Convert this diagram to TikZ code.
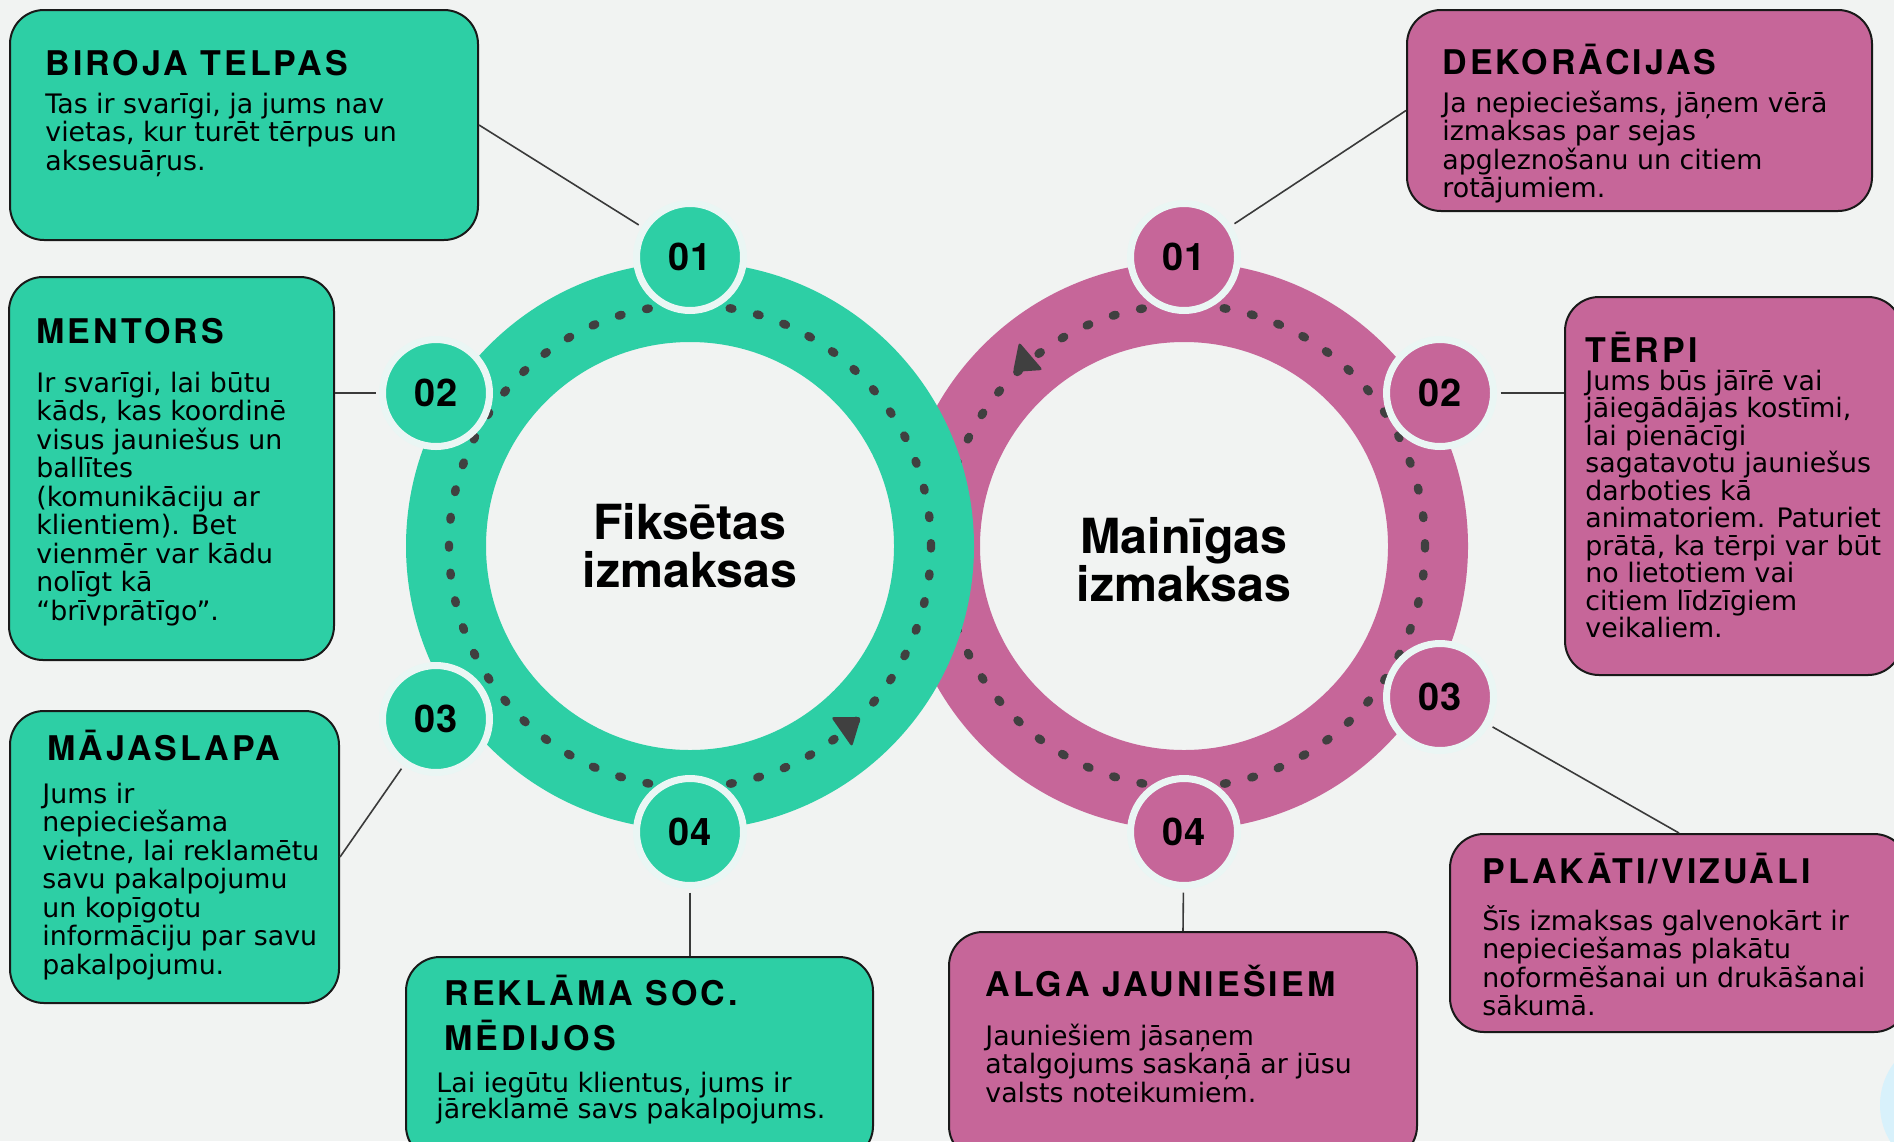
\documentclass[tikz,border=0pt]{standalone}
\usepackage{fontspec}
\setmainfont{DejaVu Sans}
\newfontfamily\herosfamily{TeX Gyre Heros}
\newfontfamily\herosspaced[LetterSpace=9]{TeX Gyre Heros}
\usetikzlibrary{fit}

\definecolor{fixgreen}{HTML}{2DCFA5}
\definecolor{varpink}{HTML}{C66699}
\definecolor{dotgray}{HTML}{404040}
\definecolor{rimwhite}{HTML}{EAF6F4}
\definecolor{paper}{HTML}{F1F3F2}
\definecolor{decoblue}{HTML}{D8F1FB}
\definecolor{linkgray}{HTML}{3A3A3A}

\newcommand{\boxheadfont}{\herosspaced\bfseries\fontsize{17pt}{22.5pt}\selectfont}
\newcommand{\boxbodyfont}{\fontsize{13.4pt}{14.25pt}\selectfont\lineskiplimit=-20pt\lineskip=0pt}
\newcommand{\badgefont}{\herosfamily\bfseries\fontsize{19pt}{20pt}\selectfont}
\newcommand{\ringfont}{\herosfamily\bfseries\fontsize{24.2pt}{24pt}\selectfont}
% lines of a box text, first baseline = node baseline
\newcommand{\boxlines}[1]{\vtop{\let\\\cr\halign{##\hfil\cr#1\crcr}}}

\tikzstyle{fixbox}=[rectangle,
                    rounded corners=17pt,
                    line width=1pt,
                    draw=black!90,
                    fill=fixgreen,
                    inner sep=0pt]
\tikzstyle{varbox}=[rectangle,
                    rounded corners=17pt,
                    line width=1pt,
                    draw=black!90,
                    fill=varpink,
                    inner sep=0pt]
\tikzstyle{boxhead}=[anchor=base west,
                    inner sep=0pt,
                    font=\boxheadfont]
\tikzstyle{boxbody}=[anchor=base west,
                    inner sep=0pt,
                    font=\boxbodyfont]
\tikzstyle{badge}=[circle,
                    minimum size=53.5pt,
                    inner sep=0pt,
                    line width=3.5pt,
                    draw=rimwhite,
                    font=\badgefont]
\tikzstyle{ring}=[circle,
                    minimum size=244pt,
                    inner sep=0pt,
                    line width=40pt]
\tikzstyle{ringlabel}=[align=center,
                    inner sep=0pt,
                    font=\ringfont]
\tikzstyle{dots}=[draw=dotgray,
                    line width=4.2pt,
                    line cap=round,
                    dash pattern=on 1.4pt off 12.6pt]
\tikzstyle{link}=[draw=linkgray,
                    line width=0.8pt]

\begin{document}
\begin{tikzpicture}[x=0.5pt,y=-0.5pt]
  % page and background
  \useasboundingbox (0,0) rectangle (1894,1141);
  \fill[paper] (0,0) rectangle (1894,1141);
  \fill[decoblue] (1950,1105) circle[radius=35pt];

  % The two rings, the pink one lies under the green one
  \node[ring, draw=varpink] (Ring_V) at (1184,546) {};
  \draw[dots] (Ring_V.center) circle[radius=120.5pt];
  \node[ring, draw=fixgreen] (Ring_F) at (690,546) {};
  \draw[dots] (Ring_F.center) circle[radius=120.5pt];

  % direction markers on the dotted circles
  \fill[dotgray, rounded corners=1.5pt] (831,717) -- (861,717) -- (852,747) -- cycle;
  \fill[dotgray, rounded corners=1.5pt] (1019,342) -- (1043,370) -- (1013,372) -- cycle;

  \node[ringlabel] (Label_F) at (Ring_F.center) {Fiksētas\\izmaksas};
  \node[ringlabel, yshift=-7pt] (Label_V) at (Ring_V.center) {Mainīgas\\izmaksas};

  % Numbered badges on the rings
  \node[badge, fill=fixgreen] (F_01) at (690,257) {01};
  \node[badge, fill=fixgreen] (F_02) at (436,393) {02};
  \node[badge, fill=fixgreen] (F_03) at (436,719) {03};
  \node[badge, fill=fixgreen] (F_04) at (690,832) {04};
  \node[badge, fill=varpink] (V_01) at (1184,257) {01};
  \node[badge, fill=varpink] (V_02) at (1440,393) {02};
  \node[badge, fill=varpink] (V_03) at (1440,697) {03};
  \node[badge, fill=varpink] (V_04) at (1184,832) {04};

  % Fixed costs: boxes on the left
  \node[fixbox, fit={(10,10) (478,240)}] (Box_F1) {};
  \node[boxhead] (Head_F1) at (45,75) {BIROJA TELPAS};
  \node[boxbody] (Body_F1) at (45,113) {\boxlines{Tas ir svarīgi, ja jums nav\\vietas, kur turēt tērpus un\\aksesuāŗus.}};

  \node[fixbox, fit={(9,277) (334,660)}] (Box_F2) {};
  \node[boxhead] (Head_F2) at (36,343) {MENTORS};
  \node[boxbody] (Body_F2) at (36,392) {\boxlines{Ir svarīgi, lai būtu\\kāds, kas koordinē\\visus jauniešus un\\ballītes\\(komunikāciju ar\\klientiem). Bet\\vienmēr var kādu\\nolīgt kā\\“brīvprātīgo”.}};

  \node[fixbox, fit={(10,711) (339,1003)}] (Box_F3) {};
  \node[boxhead] (Head_F3) at (47,760) {MĀJASLAPA};
  \node[boxbody] (Body_F3) at (42,803) {\boxlines{Jums ir\\nepieciešama\\vietne, lai reklamētu\\savu pakalpojumu\\un kopīgotu\\informāciju par savu\\pakalpojumu.}};

  \node[fixbox, fit={(406,957) (873,1160)}] (Box_F4) {};
  \node[boxhead] (Head_F4) at (444,1005) {\boxlines{REKLĀMA SOC.\\MĒDIJOS}};
  \node[boxbody, font={\boxbodyfont\baselineskip=13pt}] (Body_F4) at (436,1092) {\boxlines{Lai iegūtu klientus, jums ir\\jāreklamē savs pakalpojums.}};

  % Variable costs: boxes on the right
  \node[varbox, fit={(1407,10) (1872,211)}] (Box_V1) {};
  \node[boxhead] (Head_V1) at (1442,74) {DEKORĀCIJAS};
  \node[boxbody] (Body_V1) at (1442,112) {\boxlines{Ja nepieciešams, jāņem vērā\\izmaksas par sejas\\apgleznošanu un citiem\\rotājumiem.}};

  \node[varbox, fit={(1565,297) (1902,675)}] (Box_V2) {};
  \node[boxhead] (Head_V2) at (1585,362) {TĒRPI};
  \node[boxbody, font={\boxbodyfont\baselineskip=13.75pt}] (Body_V2) at (1585,390) {\boxlines{Jums būs jāīrē vai\\jāiegādājas kostīmi,\\lai pienācīgi\\sagatavotu jauniešus\\darboties kā\\animatoriem. Paturiet\\prātā, ka tērpi var būt\\no lietotiem vai\\citiem līdzīgiem\\veikaliem.}};

  \node[varbox, fit={(1450,834) (1908,1032)}] (Box_V3) {};
  \node[boxhead] (Head_V3) at (1482,883) {PLAKĀTI/VIZUĀLI};
  \node[boxbody] (Body_V3) at (1482,930) {\boxlines{Šīs izmaksas galvenokārt ir\\nepieciešamas plakātu\\noformēšanai un drukāšanai\\sākumā.}};

  \node[varbox, fit={(949,932) (1417,1160)}] (Box_V4) {};
  \node[boxhead] (Head_V4) at (985,996) {ALGA JAUNIEŠIEM};
  \node[boxbody] (Body_V4) at (985,1045) {\boxlines{Jauniešiem jāsaņem\\atalgojums saskaņā ar jūsu\\valsts noteikumiem.}};

  % Connectors from the badges to their boxes
  \path[link, shorten <=1.75pt]
    (F_01) edge (Box_F1.east)
    (F_02) edge (F_02 -| Box_F2.east)
    (F_03) edge (Box_F3.east)
    (F_04) edge (F_04 |- Box_F4.north)
    (V_01) edge (Box_V1.west)
    (V_02) edge (V_02 -| Box_V2.west)
    (V_03) edge (Box_V3.north)
    (V_04) edge (Box_V4.north);
\end{tikzpicture}
\end{document}
